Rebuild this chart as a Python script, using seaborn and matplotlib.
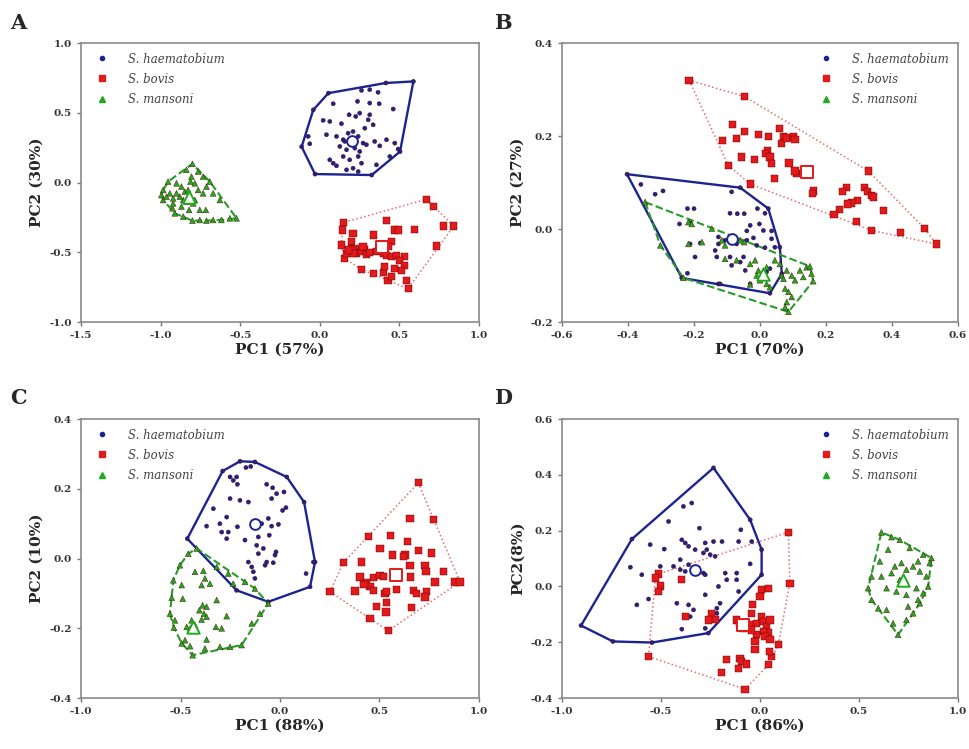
import numpy as np
import pandas as pd
import matplotlib
matplotlib.use("Agg")
import matplotlib.pyplot as plt
from matplotlib.lines import Line2D
import seaborn as sns

SPECIES = ["S. haematobium", "S. bovis", "S. mansoni"]
COLORS = {"S. haematobium": "#1c2490", "S. bovis": "#e3191c", "S. mansoni": "#1faa1f"}
HULL_COLORS = {"S. haematobium": "#1c2490", "S. bovis": "#e86a6a", "S. mansoni": "#2a9a2a"}

# ---------------- panel A ----------------
A_HAE = [(0.054, 0.641), (0.588, 0.725), (0.504, 0.222), (0.326, 0.054), (-0.030, 0.061), (-0.114, 0.257),
         (-0.041, 0.521), (0.084, 0.565), (0.262, 0.661), (0.314, 0.666), (0.366, 0.647), (0.415, 0.714),
         (0.237, 0.582), (0.314, 0.570), (0.373, 0.565), (0.461, 0.527), (0.021, 0.446), (0.063, 0.438),
         (0.136, 0.422), (0.184, 0.486), (0.226, 0.474), (0.251, 0.498), (0.314, 0.486), (0.304, 0.450),
         (0.335, 0.414), (0.042, 0.343), (0.105, 0.331), (0.147, 0.307), (0.178, 0.354), (0.209, 0.366),
         (0.241, 0.331), (0.272, 0.283), (0.126, 0.259), (0.168, 0.235), (0.220, 0.247), (0.251, 0.223),
         (0.293, 0.271), (0.345, 0.295), (0.377, 0.263), (0.419, 0.307), (0.471, 0.283), (0.492, 0.240),
         (-0.073, 0.331), (-0.063, 0.278), (0.063, 0.163), (0.084, 0.139), (0.147, 0.187), (0.188, 0.163),
         (0.241, 0.187), (0.262, 0.139), (0.356, 0.127), (0.440, 0.187), (0.168, 0.091), (0.209, 0.103),
         (0.241, 0.079), (0.105, 0.120), (0.188, 0.283), (0.230, 0.295), (0.157, 0.295), (0.283, 0.390)]
A_BOV = [(0.147, -0.287), (0.142, -0.340), (0.136, -0.448), (0.157, -0.544), (0.670, -0.120), (0.712, -0.172),
         (0.775, -0.311), (0.842, -0.311), (0.733, -0.455), (0.419, -0.273), (0.471, -0.340), (0.492, -0.340),
         (0.597, -0.335), (0.335, -0.376), (0.209, -0.364), (0.199, -0.424), (0.199, -0.472), (0.220, -0.484),
         (0.251, -0.472), (0.283, -0.479), (0.230, -0.508), (0.262, -0.496), (0.356, -0.496), (0.377, -0.484),
         (0.398, -0.508), (0.419, -0.520), (0.450, -0.532), (0.482, -0.520), (0.450, -0.424), (0.429, -0.460),
         (0.377, -0.448), (0.534, -0.532), (0.503, -0.556), (0.534, -0.592), (0.513, -0.628), (0.544, -0.700),
         (0.555, -0.760), (0.262, -0.623), (0.335, -0.652), (0.398, -0.647), (0.429, -0.700), (0.450, -0.676),
         (0.408, -0.604), (0.209, -0.508), (0.293, -0.513), (0.314, -0.503), (0.471, -0.616), (0.168, -0.508),
         (0.178, -0.484), (0.272, -0.460)]
A_MAN = [(-0.800, 0.134), (-0.838, 0.091), (-0.764, 0.079), (-0.733, 0.043), (-0.691, 0.007), (-0.712, -0.029),
         (-0.670, -0.077), (-0.628, -0.125), (-0.523, -0.256), (-0.565, -0.256), (-0.618, -0.268), (-0.670, -0.268),
         (-0.712, -0.273), (-0.754, -0.268), (-0.800, -0.273), (-0.858, -0.244), (-0.911, -0.220), (-0.925, -0.184),
         (-0.921, -0.149), (-0.984, -0.125), (-0.995, -0.089), (-0.984, -0.053), (-0.953, 0.007), (-0.900, -0.005),
         (-0.869, -0.029), (-0.848, -0.065), (-0.827, -0.053), (-0.812, 0.007), (-0.806, 0.043), (-0.785, -0.005),
         (-0.764, -0.053), (-0.733, -0.077), (-0.785, -0.125), (-0.817, -0.101), (-0.858, -0.125), (-0.879, -0.101),
         (-0.900, -0.077), (-0.921, -0.113), (-0.942, -0.077), (-0.963, -0.101), (-0.821, -0.196), (-0.754, -0.196),
         (-0.716, -0.196), (-0.869, -0.172), (-0.796, -0.149), (-0.838, -0.137)]
A_CENTROIDS = [(0.20, 0.30), (0.39, -0.46), (-0.82, -0.10)]

# ---------------- panel B ----------------
B_HAE = [(-0.403, 0.118), (-0.060, 0.089), (0.025, 0.044), (0.060, -0.039), (0.066, -0.096), (0.030, -0.138),
         (-0.126, -0.118), (-0.237, -0.105), (-0.361, 0.096), (-0.318, 0.075), (-0.294, 0.082), (-0.086, 0.080),
         (-0.220, 0.044), (-0.200, 0.044), (-0.244, 0.011), (-0.212, 0.013), (-0.091, 0.034), (-0.069, 0.033),
         (-0.048, 0.033), (-0.008, 0.044), (0.015, 0.034), (-0.030, 0.008), (-0.002, 0.011), (0.010, -0.003),
         (0.035, -0.004), (0.035, -0.021), (-0.020, -0.019), (-0.040, -0.004), (-0.010, -0.035), (0.015, -0.040),
         (0.045, -0.039), (-0.126, -0.017), (-0.126, -0.032), (-0.136, -0.046), (-0.131, -0.060), (-0.212, -0.032),
         (-0.181, -0.030), (-0.197, -0.060), (-0.091, -0.060), (-0.086, -0.078), (-0.060, -0.071), (-0.045, -0.089),
         (-0.050, -0.060), (-0.071, -0.032), (-0.106, -0.024), (-0.040, -0.024), (-0.220, -0.095), (-0.121, -0.118),
         (-0.030, -0.118), (0.020, -0.092), (0.030, -0.085)]
B_BOV = [(-0.215, 0.320), (-0.047, 0.285), (-0.084, 0.225), (-0.114, 0.191), (-0.071, 0.194), (-0.047, 0.209),
         (-0.005, 0.203), (0.025, 0.199), (0.060, 0.216), (0.071, 0.199), (0.065, 0.184), (0.081, 0.196),
         (0.101, 0.198), (0.106, 0.192), (0.023, 0.169), (0.017, 0.162), (0.030, 0.155), (0.035, 0.141),
         (-0.055, 0.155), (-0.017, 0.149), (-0.096, 0.137), (0.088, 0.142), (0.111, 0.119), (0.106, 0.125),
         (0.043, 0.108), (-0.030, 0.097), (0.161, 0.082), (0.159, 0.076), (0.328, 0.125), (0.262, 0.090),
         (0.249, 0.080), (0.317, 0.090), (0.325, 0.080), (0.338, 0.072), (0.343, 0.069), (0.295, 0.062),
         (0.276, 0.056), (0.266, 0.054), (0.241, 0.042), (0.224, 0.032), (0.373, 0.040), (0.292, 0.017),
         (0.338, -0.003), (0.426, -0.008), (0.499, 0.001), (0.534, -0.032)]
B_MAN = [(-0.348, 0.058), (-0.302, -0.035), (-0.217, 0.015), (-0.207, 0.011), (-0.217, -0.032), (-0.176, -0.028),
         (-0.146, 0.001), (-0.116, -0.024), (-0.106, -0.035), (-0.106, -0.064), (-0.071, -0.067), (-0.060, -0.024),
         (-0.015, -0.067), (-0.005, -0.089), (0.010, -0.096), (-0.010, -0.100), (0.000, -0.110), (0.020, -0.118),
         (0.030, -0.125), (-0.030, -0.119), (0.045, -0.067), (0.060, -0.075), (0.066, -0.100), (0.071, -0.107),
         (0.081, -0.089), (0.096, -0.100), (0.106, -0.110), (0.121, -0.089), (0.131, -0.103), (0.141, -0.082),
         (0.151, -0.080), (0.156, -0.096), (0.161, -0.112), (0.076, -0.128), (0.086, -0.135), (0.096, -0.146),
         (0.081, -0.157), (0.086, -0.178), (0.076, -0.168), (-0.232, -0.105), (-0.030, -0.075), (-0.048, -0.028),
         (0.020, -0.082)]
B_CENTROIDS = [(-0.086, -0.021), (0.141, 0.123), (0.010, -0.096)]

# ---------------- panel C ----------------
C_HAE = [(-0.466, 0.057), (-0.288, 0.251), (-0.201, 0.279), (-0.126, 0.277), (0.034, 0.234), (0.121, 0.162),
         (0.176, -0.010), (0.151, -0.081), (-0.059, -0.124), (-0.218, -0.091), (-0.251, 0.234), (-0.235, 0.224),
         (-0.218, 0.234), (-0.171, 0.261), (-0.147, 0.264), (-0.214, 0.213), (-0.251, 0.172), (-0.201, 0.167),
         (-0.159, 0.162), (-0.335, 0.143), (-0.369, 0.093), (-0.302, 0.100), (-0.293, 0.076), (-0.260, 0.076),
         (-0.268, 0.057), (-0.214, 0.091), (-0.176, 0.053), (-0.092, 0.100), (-0.059, 0.115), (-0.042, 0.093),
         (-0.008, 0.098), (-0.067, 0.213), (-0.037, 0.203), (-0.042, 0.172), (-0.017, 0.186), (0.020, 0.191),
         (0.030, 0.146), (0.013, 0.138), (-0.054, 0.067), (-0.109, 0.062), (-0.117, 0.038), (-0.084, 0.029),
         (-0.109, 0.014), (-0.067, -0.010), (-0.034, -0.012), (-0.075, -0.019), (-0.020, 0.019), (-0.025, 0.010),
         (-0.142, -0.024), (-0.134, -0.038), (-0.126, -0.057), (0.131, -0.043), (0.168, -0.010), (-0.159, -0.010),
         (-0.268, 0.119)]
C_BOV = [(0.695, 0.217), (0.653, 0.115), (0.771, 0.112), (0.444, 0.064), (0.556, 0.067), (0.640, 0.048),
         (0.695, 0.024), (0.762, 0.016), (0.503, 0.029), (0.564, 0.010), (0.628, 0.010), (0.620, 0.005),
         (0.318, -0.012), (0.410, -0.010), (0.653, -0.019), (0.729, -0.019), (0.734, -0.038), (0.821, -0.038),
         (0.879, -0.067), (0.905, -0.067), (0.779, -0.067), (0.402, -0.053), (0.470, -0.054), (0.503, -0.048),
         (0.519, -0.051), (0.595, -0.053), (0.655, -0.053), (0.436, -0.070), (0.452, -0.079), (0.470, -0.091),
         (0.377, -0.093), (0.251, -0.095), (0.528, -0.100), (0.586, -0.089), (0.670, -0.091), (0.687, -0.100),
         (0.737, -0.095), (0.729, -0.110), (0.486, -0.138), (0.536, -0.127), (0.533, -0.153), (0.662, -0.140),
         (0.452, -0.172), (0.544, -0.207), (0.536, -0.095), (0.422, -0.074)]
C_MAN = [(-0.419, 0.029), (-0.461, 0.014), (-0.503, -0.019), (-0.536, -0.062), (-0.544, -0.112), (-0.553, -0.158),
         (-0.533, -0.198), (-0.494, -0.243), (-0.439, -0.277), (-0.377, -0.258), (-0.302, -0.253), (-0.251, -0.253),
         (-0.193, -0.248), (-0.142, -0.186), (-0.101, -0.158), (-0.059, -0.129), (-0.427, -0.038), (-0.385, -0.035),
         (-0.377, -0.057), (-0.352, -0.072), (-0.394, -0.076), (-0.494, -0.076), (-0.489, -0.115), (-0.405, -0.148),
         (-0.389, -0.134), (-0.369, -0.138), (-0.382, -0.158), (-0.369, -0.167), (-0.394, -0.175), (-0.427, -0.191),
         (-0.451, -0.200), (-0.469, -0.196), (-0.444, -0.177), (-0.528, -0.177), (-0.477, -0.234), (-0.452, -0.251),
         (-0.369, -0.232), (-0.322, -0.196), (-0.293, -0.200), (-0.318, -0.119), (-0.268, -0.165), (-0.235, -0.072),
         (-0.176, -0.067), (-0.126, -0.086), (-0.318, -0.024), (-0.260, -0.043)]
C_CENTROIDS = [(-0.126, 0.098), (0.583, -0.048), (-0.436, -0.196)]

# ---------------- panel D ----------------
D_HAE = [(-0.235, 0.425), (-0.050, 0.239), (0.008, 0.132), (0.008, 0.042), (-0.261, -0.167), (-0.546, -0.201),
         (-0.743, -0.197), (-0.904, -0.140), (-0.647, 0.170), (-0.387, 0.287), (-0.345, 0.299), (-0.462, 0.233),
         (-0.555, 0.150), (-0.306, 0.209), (-0.235, 0.161), (-0.192, 0.161), (-0.097, 0.203), (-0.108, 0.161),
         (-0.042, 0.161), (-0.395, 0.167), (-0.378, 0.156), (-0.361, 0.144), (-0.328, 0.132), (-0.277, 0.156),
         (-0.269, 0.132), (-0.252, 0.114), (-0.227, 0.108), (-0.286, 0.120), (-0.484, 0.134), (-0.655, 0.069),
         (-0.597, 0.042), (-0.504, 0.072), (-0.437, 0.072), (-0.403, 0.096), (-0.403, 0.060), (-0.378, 0.054),
         (-0.361, 0.078), (-0.286, 0.048), (-0.277, 0.042), (-0.176, 0.048), (-0.118, 0.048), (-0.210, 0.000),
         (-0.168, 0.024), (-0.118, 0.024), (-0.050, 0.081), (-0.108, -0.018), (-0.277, -0.030), (-0.622, -0.066),
         (-0.563, -0.045), (-0.361, -0.066), (-0.336, -0.084), (-0.202, -0.060), (-0.218, -0.078), (-0.353, -0.108),
         (-0.395, -0.153), (-0.277, -0.150), (-0.420, -0.060), (-0.218, -0.096)]
D_BOV = [(0.143, 0.194), (0.151, 0.012), (-0.513, 0.045), (-0.529, 0.030), (-0.504, 0.002), (-0.513, -0.018),
         (-0.395, 0.026), (-0.378, -0.108), (-0.244, -0.096), (-0.227, -0.117), (-0.261, -0.120), (-0.563, -0.251),
         (-0.076, -0.368), (-0.193, -0.309), (-0.168, -0.263), (-0.101, -0.257), (-0.092, -0.269), (-0.067, -0.278),
         (-0.109, -0.293), (-0.025, -0.227), (0.042, -0.281), (0.059, -0.251), (0.092, -0.209), (0.047, -0.233),
         (0.008, -0.010), (0.042, -0.006), (0.000, -0.036), (-0.037, -0.066), (-0.042, -0.096), (-0.118, -0.120),
         (-0.101, -0.132), (-0.084, -0.150), (-0.050, -0.138), (-0.017, -0.132), (0.008, -0.108), (0.017, -0.126),
         (0.034, -0.144), (0.042, -0.167), (0.017, -0.162), (-0.017, -0.173), (-0.042, -0.156), (-0.025, -0.197),
         (0.050, -0.120), (0.025, -0.179), (0.050, -0.191)]
D_MAN = [(0.613, 0.194), (0.664, 0.177), (0.706, 0.167), (0.756, 0.138), (0.824, 0.114), (0.866, 0.102),
         (0.857, 0.084), (0.647, 0.132), (0.605, 0.090), (0.563, 0.036), (0.546, -0.006), (0.563, -0.048),
         (0.597, -0.078), (0.639, -0.084), (0.672, -0.132), (0.697, -0.173), (0.739, -0.120), (0.773, -0.096),
         (0.807, -0.060), (0.824, -0.024), (0.849, 0.000), (0.840, 0.036), (0.681, 0.072), (0.714, 0.084),
         (0.739, 0.060), (0.773, 0.072), (0.798, 0.090), (0.807, 0.054), (0.664, 0.048), (0.706, 0.024),
         (0.723, 0.030), (0.790, -0.006), (0.739, -0.030), (0.689, -0.018), (0.639, -0.006), (0.798, -0.048),
         (0.748, -0.072), (0.613, 0.036)]
D_CENTROIDS = [(-0.328, 0.058), (-0.088, -0.138), (0.723, 0.024)]

PANELS = [
    ("A", [A_HAE, A_BOV, A_MAN], A_CENTROIDS, "PC1 (57%)", "PC2 (30%)",
     (-1.5, 1.0), np.arange(-1.5, 1.01, 0.5), (-1.0, 1.0), np.arange(-1.0, 1.01, 0.5), "upper left"),
    ("B", [B_HAE, B_BOV, B_MAN], B_CENTROIDS, "PC1 (70%)", "PC2 (27%)",
     (-0.6, 0.6), np.arange(-0.6, 0.61, 0.2), (-0.2, 0.4), np.arange(-0.2, 0.41, 0.2), "upper right"),
    ("C", [C_HAE, C_BOV, C_MAN], C_CENTROIDS, "PC1 (88%)", "PC2 (10%)",
     (-1.0, 1.0), np.arange(-1.0, 1.01, 0.5), (-0.4, 0.4), np.arange(-0.4, 0.41, 0.2), "upper left"),
    ("D", [D_HAE, D_BOV, D_MAN], D_CENTROIDS, "PC1 (86%)", "PC2(8%)",
     (-1.0, 1.0), np.arange(-1.0, 1.01, 0.5), (-0.4, 0.6), np.arange(-0.4, 0.61, 0.2), "upper right"),
]

AX_POS = [[0.0836, 0.570, 0.4107, 0.3725], [0.580, 0.570, 0.4087, 0.3725],
          [0.0836, 0.068, 0.4107, 0.3725], [0.580, 0.068, 0.4087, 0.3725]]
LETTER_POS = [(0.010, 0.982), (0.510, 0.982), (0.010, 0.482), (0.510, 0.482)]

MARKERS = {"S. haematobium": "o", "S. bovis": "s", "S. mansoni": "^"}
SIZES = {"S. haematobium": 9, "S. bovis": 27, "S. mansoni": 18}
CENT_MARK = {"S. haematobium": ("o", 60), "S. bovis": ("s", 85), "S. mansoni": ("^", 80)}
HULL_STYLE = {"S. haematobium": ("-", 1.7), "S. bovis": (":", 1.1), "S. mansoni": ("--", 1.5)}
LEG_SIZE = {"S. haematobium": 3, "S. bovis": 5, "S. mansoni": 4}


def convex_hull(pts):
    # monotone chain
    pts = sorted(set(pts))
    def cross(o, a, b):
        return (a[0] - o[0]) * (b[1] - o[1]) - (a[1] - o[1]) * (b[0] - o[0])
    lower, upper = [], []
    for p in pts:
        while len(lower) >= 2 and cross(lower[-2], lower[-1], p) <= 0:
            lower.pop()
        lower.append(p)
    for p in reversed(pts):
        while len(upper) >= 2 and cross(upper[-2], upper[-1], p) <= 0:
            upper.pop()
        upper.append(p)
    hull = lower[:-1] + upper[:-1]
    return np.array(hull + [hull[0]])


sns.set_style("ticks")
plt.rcParams["font.family"] = ["DejaVu Serif"]

fig = plt.figure(figsize=(9.69, 7.49), dpi=100)

for i, (letter, groups, cents, xl, yl, xlim, xt, ylim, yt, legloc) in enumerate(PANELS):
    ax = fig.add_axes(AX_POS[i])
    frames = []
    for sp, pts in zip(SPECIES, groups):
        arr = np.array(pts)
        frames.append(pd.DataFrame({"x": arr[:, 0], "y": arr[:, 1], "species": sp}))
    df = pd.concat(frames, ignore_index=True)

    # hulls first so points sit on top
    for sp, pts in zip(SPECIES, groups):
        h = convex_hull(pts)
        ls, lw = HULL_STYLE[sp]
        ax.plot(h[:, 0], h[:, 1], linestyle=ls, linewidth=lw, color=HULL_COLORS[sp], zorder=2)

    sns.scatterplot(data=df, x="x", y="y", hue="species", style="species", size="species",
                    palette=COLORS, markers=MARKERS, sizes=SIZES, hue_order=SPECIES,
                    linewidth=0.3, edgecolor="#550000", legend=False, ax=ax, zorder=3)

    for sp, (cx, cy) in zip(SPECIES, cents):
        m, s = CENT_MARK[sp]
        ax.scatter([cx], [cy], marker=m, s=s, facecolors="white", edgecolors=COLORS[sp],
                   linewidths=1.4, zorder=4)

    ax.set_xlim(*xlim)
    ax.set_ylim(*ylim)
    ax.set_xticks(xt)
    ax.set_yticks(yt)
    ax.set_xticklabels([f"{v:.1f}" for v in xt])
    ax.set_yticklabels([f"{v:.1f}" for v in yt])
    ax.tick_params(axis="both", labelsize=7.5, length=3, width=1, color="#777777", labelcolor="#333333")
    for lab in ax.get_xticklabels() + ax.get_yticklabels():
        lab.set_fontweight("bold")
    for sp_name in ax.spines.values():
        sp_name.set_color("#8a8a8a")
        sp_name.set_linewidth(1.2)
    ax.set_xlabel(xl, fontsize=11, fontweight="bold", labelpad=2)
    ax.set_ylabel(yl, fontsize=11, fontweight="bold", labelpad=4)

    handles = [Line2D([], [], linestyle="none", marker=MARKERS[sp], color=COLORS[sp],
                      markersize=LEG_SIZE[sp]) for sp in SPECIES]
    ax.legend(handles, SPECIES, loc=legloc, frameon=False, handletextpad=1.2, labelspacing=0.6,
              borderaxespad=0.4, prop={"family": "DejaVu Serif", "style": "italic", "size": 8.5},
              labelcolor="#444444")

    fig.text(LETTER_POS[i][0], LETTER_POS[i][1], letter, fontsize=15, fontweight="bold",
             ha="left", va="top")

fig.savefig("out.png", dpi=100)
